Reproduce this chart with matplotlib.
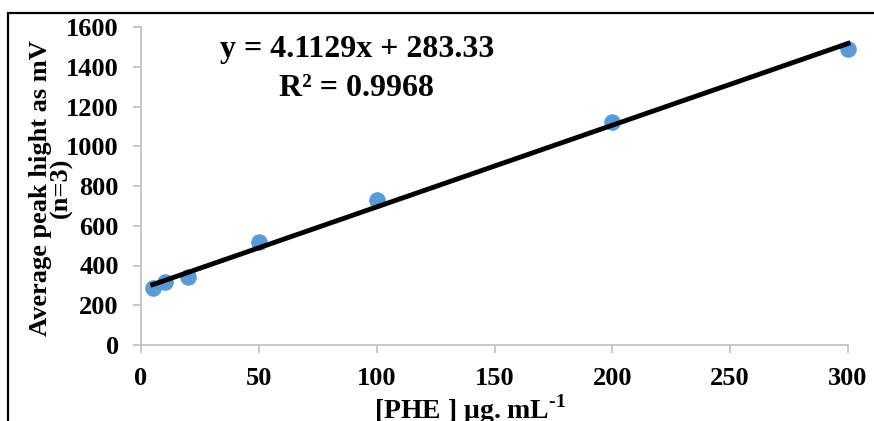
import numpy as np
import matplotlib
matplotlib.use('Agg')
import matplotlib.pyplot as plt
from matplotlib.patches import Rectangle

# data
conc = [5, 10, 20, 50, 100, 200, 300]
peak = [285, 315, 340, 518, 730, 1122, 1490]
slope = 4.1129
intercept = 283.33
r2 = 0.9968

plt.rcParams['font.family'] = 'Liberation Serif'
plt.rcParams['font.weight'] = 'bold'
plt.rcParams['mathtext.fontset'] = 'custom'
plt.rcParams['mathtext.rm'] = 'Liberation Serif:bold'
plt.rcParams['mathtext.bf'] = 'Liberation Serif:bold'

fig = plt.figure(figsize=(8.74, 4.21), dpi=100)
ax = fig.add_axes([141/874, 1-345/421, (848-141)/874, (345-27)/421])

ax.scatter(conc, peak, s=120, color='#5B9BD5', zorder=2, clip_on=False)
xfit = np.array([min(conc), max(conc)])
ax.plot(xfit, slope*xfit + intercept, color='black', lw=3.5, zorder=3, clip_on=False)

ax.set_xlim(0, 300)
ax.set_ylim(0, 1600)
ax.set_xticks(range(0, 301, 50))
ax.set_yticks(range(0, 1601, 200))
for s in ['top', 'right']:
    ax.spines[s].set_visible(False)
for s in ['left', 'bottom']:
    ax.spines[s].set_color('#BFBFBF')
    ax.spines[s].set_linewidth(1.2)
ax.tick_params(colors='#BFBFBF', labelcolor='black', length=6, width=1.2, labelsize=19)
ax.tick_params(axis='x', pad=10)
ax.tick_params(axis='y', pad=10)
for lab in ax.get_xticklabels() + ax.get_yticklabels():
    lab.set_fontweight('bold')

ax.set_ylabel('Average peak hight as mV\n(n=3)', fontsize=19, fontweight='bold', linespacing=0.85)
ax.yaxis.set_label_coords(-0.096, 0.494)
ax.set_xlabel('[PHE ] μg. mL$^{\\text{-1}}$', fontsize=20, fontweight='bold')
ax.xaxis.set_label_coords(0.466, -0.15)

ax.text(0.3055, 0.928, 'y = %.4fx + %.2f' % (slope, intercept), transform=ax.transAxes,
        ha='center', va='center', fontsize=23, fontweight='bold')
ax.text(0.3055, 0.808, 'R² = %.4f' % r2, transform=ax.transAxes,
        ha='center', va='center', fontsize=23, fontweight='bold')

fig.patches.append(Rectangle((8/874, -0.1), 1.1, 1.1 - 13/421, transform=fig.transFigure,
                             fill=False, edgecolor='black', lw=1.6))

fig.savefig('out.png', dpi=100)
